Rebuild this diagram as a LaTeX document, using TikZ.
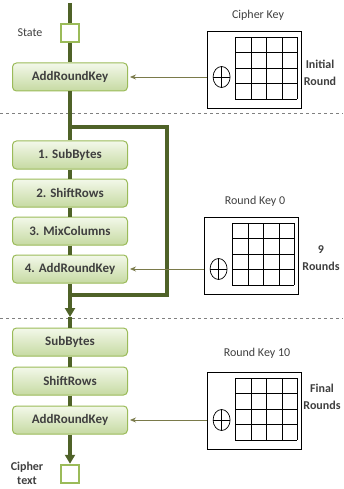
\documentclass[tikz,border=0pt]{standalone}
\usepackage{fontspec}
\setmainfont{Carlito}
\usetikzlibrary{positioning,arrows.meta,shapes.geometric}
\definecolor{olivedark}{HTML}{4F6228}
\definecolor{stageedge}{HTML}{9BBB59}
\definecolor{stagetop}{HTML}{F3F8EA}
\definecolor{stagebot}{HTML}{C6DAA2}
\definecolor{keyline}{HTML}{7A7A4A}
\definecolor{txtgray}{HTML}{3F3F3F}
\begin{document}
\begin{tikzpicture}[x=1pt,y=-1pt,
    stagebox/.style={rectangle, rounded corners=4pt, draw=stageedge, line width=1pt,
      top color=stagetop, bottom color=stagebot, minimum width=115pt, minimum height=28pt,
      font=\fontsize{13}{15}\selectfont\bfseries, text=txtgray},
    databox/.style={rectangle, draw=stageedge, line width=2.5pt, fill=white, minimum size=18pt},
    keybox/.style={rectangle, draw=black, line width=0.8pt, minimum width=94pt, minimum height=77pt},
    xorsym/.style={ellipse, draw=black, line width=0.7pt, minimum width=17pt, minimum height=21pt, inner sep=0pt,
      path picture={\draw[line width=0.7pt] (path picture bounding box.north) -- (path picture bounding box.south)
        (path picture bounding box.west) -- (path picture bounding box.east);}},
    keylabel/.style={font=\fontsize{12}{14}\selectfont, text=txtgray},
    sidelabel/.style={font=\fontsize{12}{17}\selectfont\bfseries, text=txtgray, align=center},
    mainline/.style={draw=olivedark, line width=3.5pt},
    keyarrow/.style={draw=keyline, line width=0.8pt, -{Stealth[length=6pt,width=5pt]}, shorten >=2pt},
    roundsep/.style={draw=gray, dashed, line width=0.8pt}]
  \useasboundingbox (0,0) rectangle (343,489);
  % Place nodes
  % Initial round
  \coordinate (start) at (70,3);
  \node[databox]  (state) at (70,33)  {};
  \node[stagebox] (ark0)  at (70,77)  {AddRoundKey};
  \node[keybox]   (key1)  at (254,70) {};
  % 9 rounds
  \node[stagebox] (sb1)  at (70,155)            {1. SubBytes};
  \node[stagebox] (sr1)  [below=9pt of sb1]     {2. ShiftRows};
  \node[stagebox] (mc1)  [below=9pt of sr1]     {3. MixColumns};
  \node[stagebox] (ark1) [below=9pt of mc1]     {4. AddRoundKey};
  \node[keybox]   (key2) at (251,256) {};
  % Final round
  \node[stagebox] (sb2)  at (70,342)            {SubBytes};
  \node[stagebox] (sr2)  [below=10pt of sb2]    {ShiftRows};
  \node[stagebox] (ark2) [below=10pt of sr2]    {AddRoundKey};
  \node[databox]  (ctext) at (70,474) {};
  \node[keybox]   (key3) at (254,411) {};
  % Key grids
  \foreach \k in {key1,key2,key3} {
    \foreach \i in {0,...,4} {
      \draw[line width=0.8pt] ([xshift=-66pt+\i*15.5pt, yshift=-6pt]\k.north east) -- ++(0,62);
      \draw[line width=0.8pt] ([xshift=-66pt, yshift=-6pt-\i*15.5pt]\k.north east) -- ++(62,0);
    }
  }
  \node[xorsym, xshift=15pt] (xor1) at (key1.west |- ark0) {};
  \node[xorsym, xshift=15pt] (xor2) at (key2.west |- ark1) {};
  \node[xorsym, xshift=15pt] (xor3) at (key3.west |- ark2) {};
  % Labels
  \node[keylabel] (ck)   at (258,15)  {Cipher Key};
  \node[keylabel] (rk0)  at (255,201) {Round Key 0};
  \node[keylabel] (rk10) at (257,353) {Round Key 10};
  \node[sidelabel] (init) at (320,73)  {Initial\\Round};
  \node[sidelabel] (nine) at (321,258) {9\\Rounds};
  \node[sidelabel] (fin)  at (322,397) {Final\\Rounds};
  \node[keylabel] (statelbl) at (30,33) {State};
  \node[sidelabel, font=\fontsize{12}{14}\selectfont\bfseries] (ctlbl) at (27,473) {Cipher\\text};
  % Round separators
  \draw[roundsep] (0,113) -- (343,113);
  \draw[roundsep] (0,318) -- (343,318);
  % Create edges
  \coordinate (looptop)  at (70,127);
  \coordinate (loopbot)  at (70,295);
  \coordinate (loopturn) at (167,295);
  \coordinate (arrowtip) at (70,317);
  \draw[mainline] (start) -- (state) -- (ark0) -- (sb1) -- (sr1) -- (mc1) -- (ark1);
  \draw[mainline] (looptop) -| (loopturn) -- (loopbot);
  \draw[mainline, -{Triangle[length=9pt,width=10pt]}] (ark1) -- (arrowtip);
  \draw[mainline] (arrowtip) -- (sb2) -- (sr2) -- (ark2);
  \draw[mainline, -{Triangle[length=9pt,width=10pt]}] (ark2) -- (ctext);
  % Key inputs
  \draw[keyarrow] (key1.west |- ark0) -- (ark0);
  \draw[keyarrow] (key2.west |- ark1) -- (ark1);
  \draw[keyarrow] (key3.west |- ark2) -- (ark2);
\end{tikzpicture}
\end{document}
